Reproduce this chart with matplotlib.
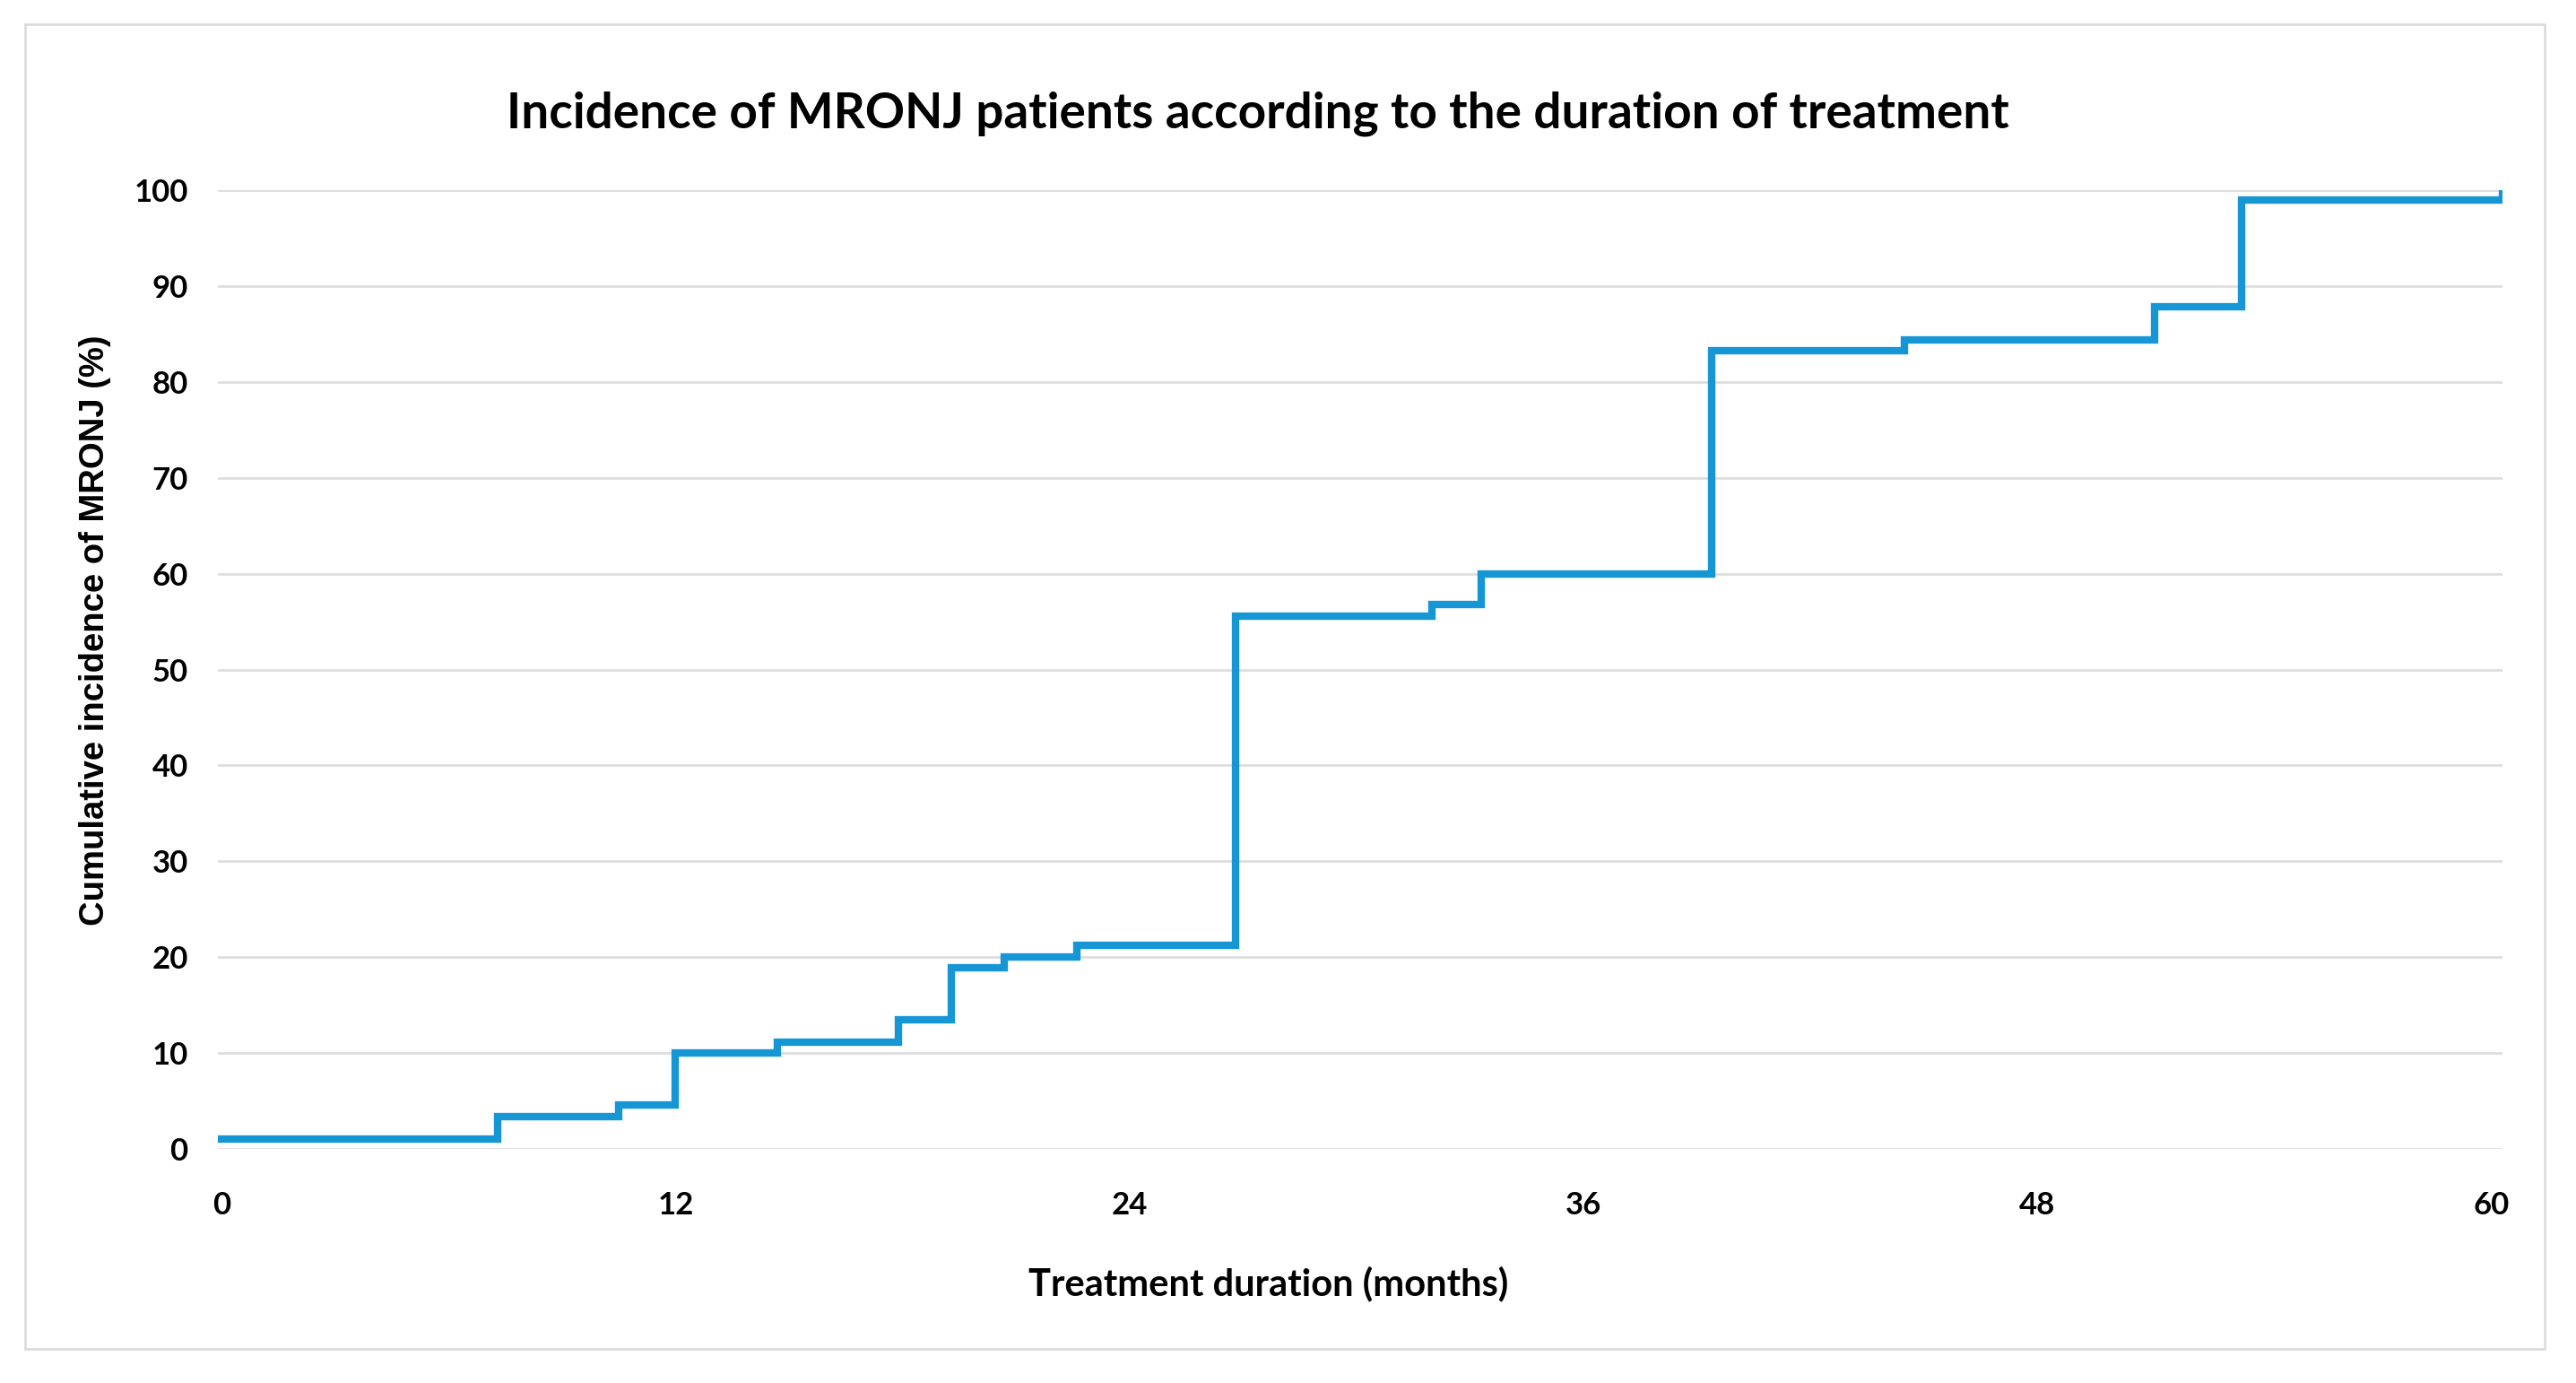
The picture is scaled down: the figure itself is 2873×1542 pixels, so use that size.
import matplotlib.pyplot as plt
from matplotlib.patches import Rectangle

# step data (months, cumulative %)
months = [0, 7.3, 10.5, 12, 14.7, 17.9, 19.3, 20.7, 22.6, 26.8, 32.0, 33.3, 39.4, 44.5, 51.1, 53.4, 60.3]
incidence = [1, 3.4, 4.6, 10, 11.1, 13.5, 18.9, 20, 21.2, 55.6, 56.8, 60, 83.3, 84.4, 87.8, 99, 100]

x_ticks = [0, 12, 24, 36, 48, 60]
y_ticks = [0, 10, 20, 30, 40, 50, 60, 70, 80, 90, 100]

title = 'Incidence of MRONJ patients according to the duration of treatment'
x_label = 'Treatment duration (months)'
y_label = 'Cumulative incidence of MRONJ (%)'

W, H = 2873, 1542
fig = plt.figure(figsize=(W / 100, H / 100), dpi=100)

# light grey frame around the whole chart
fig.patches.append(Rectangle((28 / W, 1 - 1504 / H), (2838 - 28) / W, (1504 - 27) / H,
                             transform=fig.transFigure, fill=False,
                             edgecolor='#d9d9d9', linewidth=1.8))

ax = fig.add_axes([243 / W, 1 - 1281 / H, (2791 - 243) / W, (1281 - 212) / H])

ax.step(months, incidence, where='post', color='#1796d6', linewidth=6, solid_joinstyle='miter')

ax.set_xlim(-0.1, 60.3)
ax.set_ylim(0, 100)
ax.set_xticks(x_ticks)
ax.set_yticks(y_ticks)
ax.grid(axis='y', color='#dedede', linewidth=2)
ax.set_axisbelow(True)
for s in ax.spines.values():
    s.set_visible(False)
ax.tick_params(length=0)
ax.tick_params(axis='x', pad=34)
ax.tick_params(axis='y', pad=24)
for lab in ax.get_xticklabels() + ax.get_yticklabels():
    lab.set_fontfamily('Lato')
    lab.set_fontweight('bold')
    lab.set_fontsize(25)

# labels sit a little off-centre in the original
ax.set_xlabel(x_label, fontfamily='Lato', fontweight='bold', fontsize=30, labelpad=37, x=0.46)
ax.set_ylabel(y_label, fontfamily='Liberation Sans', fontweight='bold', fontsize=27.5, labelpad=18, y=0.541)
fig.text(1403 / W, 1 - 127 / H, title, ha='center', va='center',
         fontfamily='Lato', fontweight='bold', fontsize=39.5)

fig.savefig('out.png', dpi=100, facecolor='white')
